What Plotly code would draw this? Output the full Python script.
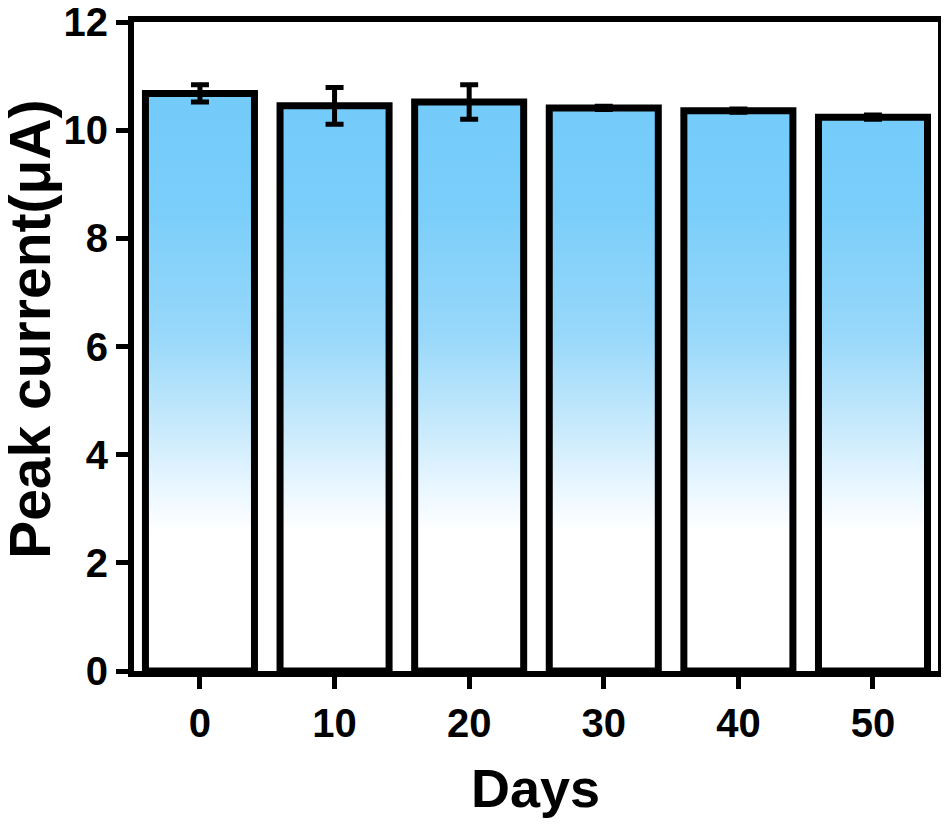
import plotly.graph_objects as go

days = [0, 10, 20, 30, 40, 50]
peak_current = [10.68, 10.45, 10.52, 10.41, 10.36, 10.24]
errors = [0.16, 0.34, 0.32, 0.03, 0.03, 0.04]
bar_width = 8.1

xs, ys = [], []
for d, v in zip(days, peak_current):
    x0, x1 = d - bar_width / 2, d + bar_width / 2
    xs += [x0, x0, x1, x1, x0, None]
    ys += [0, v, v, 0, 0, None]

grad = [
    [0.0, "rgb(255,255,255)"],
    [0.24, "rgb(255,255,255)"],
    [0.32, "rgb(232,246,255)"],
    [0.42, "rgb(200,234,252)"],
    [0.58, "rgb(152,216,250)"],
    [0.80, "rgb(122,206,250)"],
    [1.0, "rgb(115,203,250)"],
]

fig = go.Figure()
fig.add_trace(go.Scatter(
    x=xs, y=ys, mode="lines", fill="toself",
    fillgradient=dict(type="vertical", colorscale=grad, start=0, stop=10.7),
    line=dict(color="black", width=7),
    hoverinfo="skip", showlegend=False,
))
fig.add_trace(go.Scatter(
    x=days, y=peak_current, mode="markers",
    marker=dict(size=1, color="black", opacity=0),
    error_y=dict(type="data", array=errors, color="black", thickness=5, width=9),
    showlegend=False,
))

tickfont = dict(family="Liberation Sans", size=40, color="black", weight="bold")
fig.update_layout(
    width=941, height=818,
    margin=dict(l=126, r=11, t=14, b=155, autoexpand=False),
    plot_bgcolor="white", paper_bgcolor="white",
    xaxis=dict(
        range=[-4.90, 54.83], tickvals=days, ticktext=[str(d) for d in days],
        showgrid=False, zeroline=False, showline=True, linecolor="black", linewidth=6,
        mirror=True, ticks="outside", ticklen=12, tickwidth=5, tickcolor="black",
        tickfont=tickfont, ticklabeloverflow="allow", automargin=False,
    ),
    yaxis=dict(
        range=[0, 12], tickvals=[0, 2, 4, 6, 8, 10, 12],
        showgrid=False, zeroline=False, showline=True, linecolor="black", linewidth=6,
        mirror=True, ticks="outside", ticklen=12, tickwidth=5, tickcolor="black",
        tickfont=tickfont, ticklabeloverflow="allow", automargin=False,
    ),
    annotations=[
        dict(text="Peak current(μA)", textangle=-90, xref="paper", yref="paper",
             x=-0.1295, y=0.527, xanchor="center", yanchor="middle",
             showarrow=False,
             font=dict(family="Liberation Sans", size=57, color="black", weight="bold")),
        dict(text="Days", xref="paper", yref="paper",
             x=0.499, y=-0.180, xanchor="center", yanchor="middle",
             showarrow=False,
             font=dict(family="Liberation Sans", size=54, color="black", weight="bold")),
    ],
)
fig.write_html("out.html", config={"displayModeBar": False})
